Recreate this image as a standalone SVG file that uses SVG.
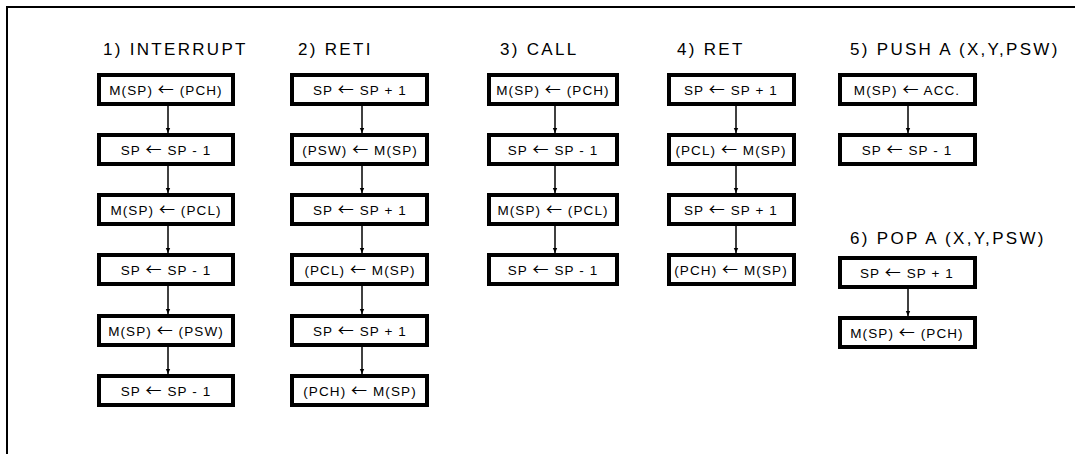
<svg xmlns="http://www.w3.org/2000/svg" width="1075" height="454" viewBox="0 0 1075 454">
<style>
.box{fill:#fff;stroke:#000;stroke-width:4}
.bt{font-family:"Liberation Sans",Arial,sans-serif;font-size:13.5px;letter-spacing:1.1px;text-anchor:middle;fill:#000}
.ar{font-family:"Noto Sans CJK JP","Noto Sans CJK SC",sans-serif;font-size:16px;letter-spacing:1px}
.tt{font-family:"Liberation Sans",Arial,sans-serif;font-size:17px;letter-spacing:2.3px;fill:#000}
.ln{stroke:#000;stroke-width:1.5;fill:none;marker-end:url(#ah)}
</style>
<defs>
<marker id="ah" markerWidth="6" markerHeight="6" refX="5" refY="3" orient="auto" markerUnits="userSpaceOnUse">
<path d="M0,0.8 L5,3 L0,5.2 Z" fill="#000"/>
</marker>
</defs>
<g id="frame"><polyline points="7,454 7,7 1075,7" fill="none" stroke="#000" stroke-width="2"/></g>
<g id="titles">
<text class="tt" x="103" y="55">1) INTERRUPT</text>
<text class="tt" x="298" y="55">2) RETI</text>
<text class="tt" x="500" y="55">3) CALL</text>
<text class="tt" x="677" y="55">4) RET</text>
<text class="tt" x="850" y="55">5) PUSH A (X,Y,PSW)</text>
<text class="tt" x="850" y="244">6) POP A (X,Y,PSW)</text>
</g>
<g id="connectors">
<line class="ln" x1="168" y1="106" x2="168" y2="133"/>
<line class="ln" x1="168" y1="166" x2="168" y2="193"/>
<line class="ln" x1="168" y1="226" x2="168" y2="253"/>
<line class="ln" x1="168" y1="286" x2="168" y2="314"/>
<line class="ln" x1="168" y1="346" x2="168" y2="374"/>
<line class="ln" x1="362" y1="106" x2="362" y2="133"/>
<line class="ln" x1="362" y1="166" x2="362" y2="193"/>
<line class="ln" x1="362" y1="226" x2="362" y2="253"/>
<line class="ln" x1="362" y1="286" x2="362" y2="314"/>
<line class="ln" x1="362" y1="346" x2="362" y2="374"/>
<line class="ln" x1="555" y1="106" x2="555" y2="133"/>
<line class="ln" x1="555" y1="166" x2="555" y2="193"/>
<line class="ln" x1="555" y1="226" x2="555" y2="253"/>
<line class="ln" x1="736" y1="106" x2="736" y2="133"/>
<line class="ln" x1="736" y1="166" x2="736" y2="193"/>
<line class="ln" x1="736" y1="226" x2="736" y2="253"/>
<line class="ln" x1="908" y1="106" x2="908" y2="133"/>
<line class="ln" x1="908" y1="289" x2="908" y2="316"/>
</g>
<g id="c1n1"><rect class="box" x="99" y="75" width="134" height="29"/><text class="bt" x="166" y="95">M(SP) <tspan class="ar">←</tspan> (PCH)</text></g>
<g id="c1n2"><rect class="box" x="99" y="135" width="134" height="29"/><text class="bt" x="166" y="155">SP <tspan class="ar">←</tspan> SP - 1</text></g>
<g id="c1n3"><rect class="box" x="99" y="195" width="134" height="29"/><text class="bt" x="166" y="215">M(SP) <tspan class="ar">←</tspan> (PCL)</text></g>
<g id="c1n4"><rect class="box" x="99" y="255" width="134" height="29"/><text class="bt" x="166" y="275">SP <tspan class="ar">←</tspan> SP - 1</text></g>
<g id="c1n5"><rect class="box" x="99" y="316" width="134" height="29"/><text class="bt" x="166" y="336">M(SP) <tspan class="ar">←</tspan> (PSW)</text></g>
<g id="c1n6"><rect class="box" x="99" y="376" width="134" height="29"/><text class="bt" x="166" y="396">SP <tspan class="ar">←</tspan> SP - 1</text></g>
<g id="c2n1"><rect class="box" x="292" y="75" width="135" height="29"/><text class="bt" x="360" y="95">SP <tspan class="ar">←</tspan> SP + 1</text></g>
<g id="c2n2"><rect class="box" x="292" y="135" width="135" height="29"/><text class="bt" x="360" y="155">(PSW) <tspan class="ar">←</tspan> M(SP)</text></g>
<g id="c2n3"><rect class="box" x="292" y="195" width="135" height="29"/><text class="bt" x="360" y="215">SP <tspan class="ar">←</tspan> SP + 1</text></g>
<g id="c2n4"><rect class="box" x="292" y="255" width="135" height="29"/><text class="bt" x="360" y="275">(PCL) <tspan class="ar">←</tspan> M(SP)</text></g>
<g id="c2n5"><rect class="box" x="292" y="316" width="135" height="29"/><text class="bt" x="360" y="336">SP <tspan class="ar">←</tspan> SP + 1</text></g>
<g id="c2n6"><rect class="box" x="292" y="376" width="135" height="29"/><text class="bt" x="360" y="396">(PCH) <tspan class="ar">←</tspan> M(SP)</text></g>
<g id="c3n1"><rect class="box" x="489" y="75" width="128" height="29"/><text class="bt" x="553" y="95">M(SP) <tspan class="ar">←</tspan> (PCH)</text></g>
<g id="c3n2"><rect class="box" x="489" y="135" width="128" height="29"/><text class="bt" x="553" y="155">SP <tspan class="ar">←</tspan> SP - 1</text></g>
<g id="c3n3"><rect class="box" x="489" y="195" width="128" height="29"/><text class="bt" x="553" y="215">M(SP) <tspan class="ar">←</tspan> (PCL)</text></g>
<g id="c3n4"><rect class="box" x="489" y="255" width="128" height="29"/><text class="bt" x="553" y="275">SP <tspan class="ar">←</tspan> SP - 1</text></g>
<g id="c4n1"><rect class="box" x="669" y="75" width="125" height="29"/><text class="bt" x="731" y="95">SP <tspan class="ar">←</tspan> SP + 1</text></g>
<g id="c4n2"><rect class="box" x="669" y="135" width="125" height="29"/><text class="bt" x="731" y="155">(PCL) <tspan class="ar">←</tspan> M(SP)</text></g>
<g id="c4n3"><rect class="box" x="669" y="195" width="125" height="29"/><text class="bt" x="731" y="215">SP <tspan class="ar">←</tspan> SP + 1</text></g>
<g id="c4n4"><rect class="box" x="669" y="255" width="125" height="29"/><text class="bt" x="731" y="275">(PCH) <tspan class="ar">←</tspan> M(SP)</text></g>
<g id="c5n1"><rect class="box" x="840" y="75" width="135" height="29"/><text class="bt" x="907" y="95">M(SP) <tspan class="ar">←</tspan> ACC.</text></g>
<g id="c5n2"><rect class="box" x="840" y="135" width="135" height="29"/><text class="bt" x="907" y="155">SP <tspan class="ar">←</tspan> SP - 1</text></g>
<g id="c6n1"><rect class="box" x="840" y="258" width="135" height="29"/><text class="bt" x="907" y="278">SP <tspan class="ar">←</tspan> SP + 1</text></g>
<g id="c6n2"><rect class="box" x="840" y="318" width="135" height="29"/><text class="bt" x="907" y="338">M(SP) <tspan class="ar">←</tspan> (PCH)</text></g>
</svg>
